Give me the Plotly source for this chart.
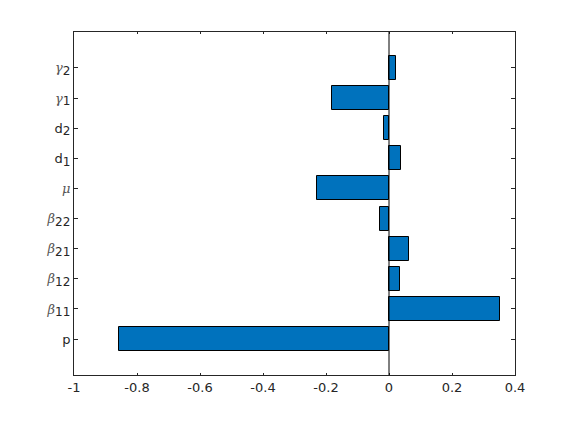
import plotly.graph_objects as go

categories = ["p", "β11", "β12", "β21", "β22", "μ", "d1", "d2", "γ1", "γ2"]
SUB = '<sub><span style="font-size:12px">{}</span></sub>'
GR = '<span style="font-family:\'DejaVu Serif\';font-style:italic;color:#555555">{}</span>'
tick_labels = [
    "p",
    GR.format("β") + SUB.format("11"),
    GR.format("β") + SUB.format("12"),
    GR.format("β") + SUB.format("21"),
    GR.format("β") + SUB.format("22"),
    GR.format("μ"),
    "d" + SUB.format("1"),
    "d" + SUB.format("2"),
    GR.format("γ") + SUB.format("1"),
    GR.format("γ") + SUB.format("2"),
]
values = [-0.857, 0.353, 0.036, 0.062, -0.028, -0.228, 0.039, -0.015, -0.180, 0.021]
positions = list(range(1, len(categories) + 1))
x_ticks = [-1, -0.8, -0.6, -0.4, -0.2, 0, 0.2, 0.4]
x_tick_labels = ["-1", "-0.8", "-0.6", "-0.4", "-0.2", "0", "0.2", "0.4"]

axis_col = "#262626"

fig = go.Figure(
    go.Bar(
        x=values,
        y=positions,
        orientation="h",
        width=0.8,
        marker=dict(color="#0072BD", line=dict(color="black", width=1)),
        hovertext=categories,
    )
)

fig.add_shape(
    type="line", xref="x", yref="paper", x0=0, x1=0, y0=0, y1=1,
    line=dict(color="black", width=1),
)

fig.update_layout(
    width=570,
    height=422,
    margin=dict(l=74, r=55, t=32, b=47, autoexpand=False),
    paper_bgcolor="white",
    plot_bgcolor="white",
    showlegend=False,
    font=dict(family="DejaVu Sans", size=13, color=axis_col),
    bargap=0,
)
fig.update_xaxes(
    range=[-1, 0.4],
    tickvals=x_ticks,
    ticktext=x_tick_labels,
    ticks="inside",
    ticklen=2,
    tickcolor=axis_col,
    showline=True,
    linecolor=axis_col,
    linewidth=1,
    mirror="ticks",
    showgrid=False,
    zeroline=False,
    automargin=False,
)
fig.update_yaxes(
    range=[-0.19, 11.19],
    tickvals=positions,
    ticktext=tick_labels,
    ticks="inside",
    ticklen=4,
    tickcolor=axis_col,
    showline=True,
    linecolor=axis_col,
    linewidth=1,
    mirror="ticks",
    showgrid=False,
    zeroline=False,
    automargin=False,
)

fig.write_html("out.html", config={"displayModeBar": False})
with open("out.html", encoding="utf-8") as f:
    html = f.read()
html = html.replace("<head>", "<head><style>html,body{margin:0;padding:0;overflow:hidden;}</style>", 1)
with open("out.html", "w", encoding="utf-8") as f:
    f.write(html)
